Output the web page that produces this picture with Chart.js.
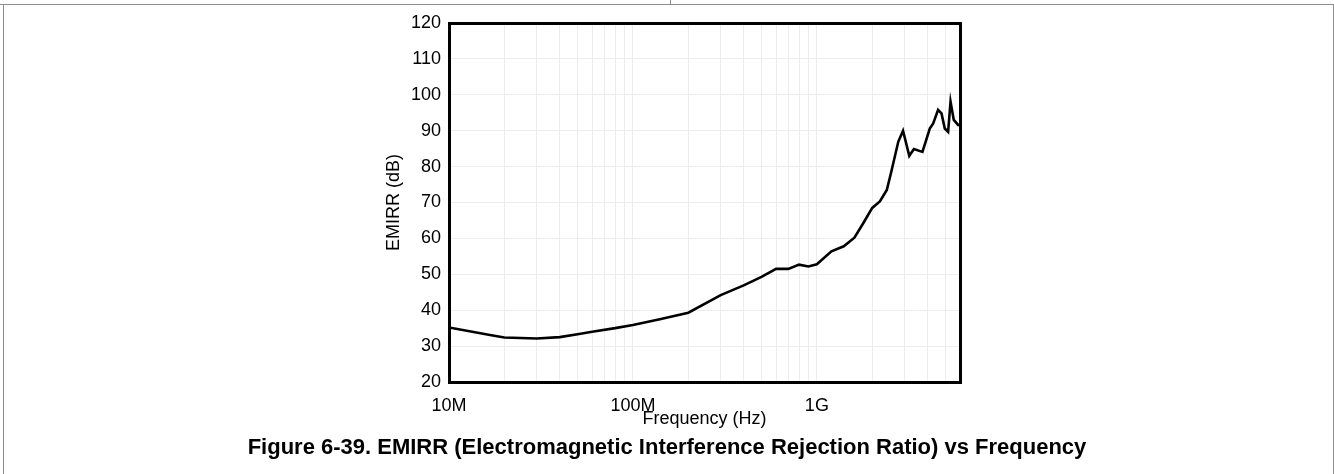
<!DOCTYPE html>
<html><head><meta charset="utf-8">
<script src="https://cdn.jsdelivr.net/npm/chart.js@4/dist/chart.umd.min.js"></script>
<style>
html,body{margin:0;padding:0;background:#fff;}
#wrap{position:relative;width:1334px;height:474px;overflow:hidden;background:#fff;}
canvas{position:absolute;left:0;top:0;}
.hl{position:absolute;background:#8c8c8c;}
#caption{position:absolute;left:0;width:1334px;top:434px;line-height:26px;text-align:center;font-family:"Liberation Sans",Arial,sans-serif;font-weight:bold;font-size:22px;color:#000;}
</style></head><body>
<div id="wrap">
<canvas id="c" width="1334" height="474"></canvas>
<div class="hl" style="left:0;top:4px;width:1334px;height:1px"></div>
<div class="hl" style="left:3px;top:4px;width:1px;height:470px"></div>
<div class="hl" style="left:670px;top:0;width:1px;height:5px"></div>
<div class="hl" style="left:1333px;top:4px;width:1px;height:470px"></div>
<div id="caption">Figure 6-39. EMIRR (Electromagnetic Interference Rejection Ratio) vs Frequency</div>
</div>
<script>
const frequencyHz = [1e7, 1.67e7, 2e7, 3e7, 4e7, 5e7, 6e7, 8e7, 1e8, 1.4e8, 2e8, 3e8, 4e8, 5e8, 6e8, 7e8, 8e8, 9e8, 1e9, 1.2e9, 1.4e9, 1.6e9, 1.8e9, 2.0e9, 2.2e9, 2.4e9, 2.55e9, 2.77e9, 2.94e9, 3.18e9, 3.37e9, 3.75e9, 4.11e9, 4.29e9, 4.56e9, 4.76e9, 4.96e9, 5.17e9, 5.33e9, 5.55e9, 5.86e9, 6e9];
const emirrDb = [35.2, 33.1, 32.4, 32.1, 32.5, 33.3, 34.0, 35.0, 35.9, 37.5, 39.3, 44.2, 46.9, 49.3, 51.5, 51.5, 52.7, 52.2, 52.8, 56.4, 57.8, 60.2, 64.5, 68.5, 70.3, 73.5, 79.0, 86.9, 90.0, 83.0, 84.9, 84.1, 90.6, 92.0, 95.8, 94.8, 90.6, 89.7, 98.1, 93.0, 91.6, 91.5];
const xTickValues = [1e7, 1e8, 1e9];
const xTickLabels = ['10M', '100M', '1G'];
const xMin = 1e7, xMax = 6e9;
const yMin = 20, yMax = 120, yStep = 10;
const xTitle = 'Frequency (Hz)';
const yTitle = 'EMIRR (dB)';

const FONT = '"Liberation Sans", Arial, sans-serif';

const framePlugin = {
  id: 'frame',
  afterDatasetsDraw(chart) {
    const a = chart.chartArea, ctx = chart.ctx;
    ctx.save();
    ctx.strokeStyle = '#000';
    ctx.lineWidth = 3;
    ctx.strokeRect(a.left + 0.5, a.top + 0.5, a.right - a.left, a.bottom - a.top);
    ctx.restore();
  }
};

new Chart(document.getElementById('c'), {
  type: 'line',
  data: {
    datasets: [{
      data: frequencyHz.map((f, i) => ({x: f, y: emirrDb[i]})),
      borderColor: '#000',
      borderWidth: 2.6,
      pointRadius: 0,
      tension: 0,
      fill: false
    }]
  },
  options: {
    responsive: false,
    animation: false,
    devicePixelRatio: 1,
    layout: {padding: {left: 379, right: 374, top: 23, bottom: 40}},
    plugins: {legend: {display: false}, tooltip: {enabled: false}},
    scales: {
      x: {
        type: 'logarithmic',
        min: xMin, max: xMax,
        afterBuildTicks(scale) {
          const t = [];
          for (let e = 7; e <= 9; e++) {
            for (let m = 1; m <= 9; m++) {
              const v = m * Math.pow(10, e);
              if (v >= xMin && v <= xMax) t.push({value: v});
            }
          }
          scale.ticks = t;
        },
        afterFit(scale) { scale.height = 52; },
        grid: {color: '#ededed', lineWidth: 1, drawTicks: false},
        border: {display: false},
        ticks: {
          autoSkip: false, maxRotation: 0, padding: 13, color: '#000',
          font: {family: FONT, size: 18},
          callback(v) {
            const i = xTickValues.findIndex(t => Math.abs(t - v) / t < 1e-6);
            return i >= 0 ? xTickLabels[i] : '';
          }
        },
        title: {display: true, text: xTitle, color: '#000', font: {family: FONT, size: 18}, padding: {top: 0, bottom: 4}}
      },
      y: {
        min: yMin, max: yMax,
        afterFit(scale) { scale.width = 70; },
        grid: {color: '#ededed', lineWidth: 1, drawTicks: false},
        border: {display: false},
        ticks: {stepSize: yStep, padding: 8, color: '#000', font: {family: FONT, size: 18}},
        title: {display: true, text: yTitle, color: '#000', font: {family: FONT, size: 18}, padding: {top: 4, bottom: 4}}
      }
    }
  },
  plugins: [framePlugin]
});
</script>
</body></html>
